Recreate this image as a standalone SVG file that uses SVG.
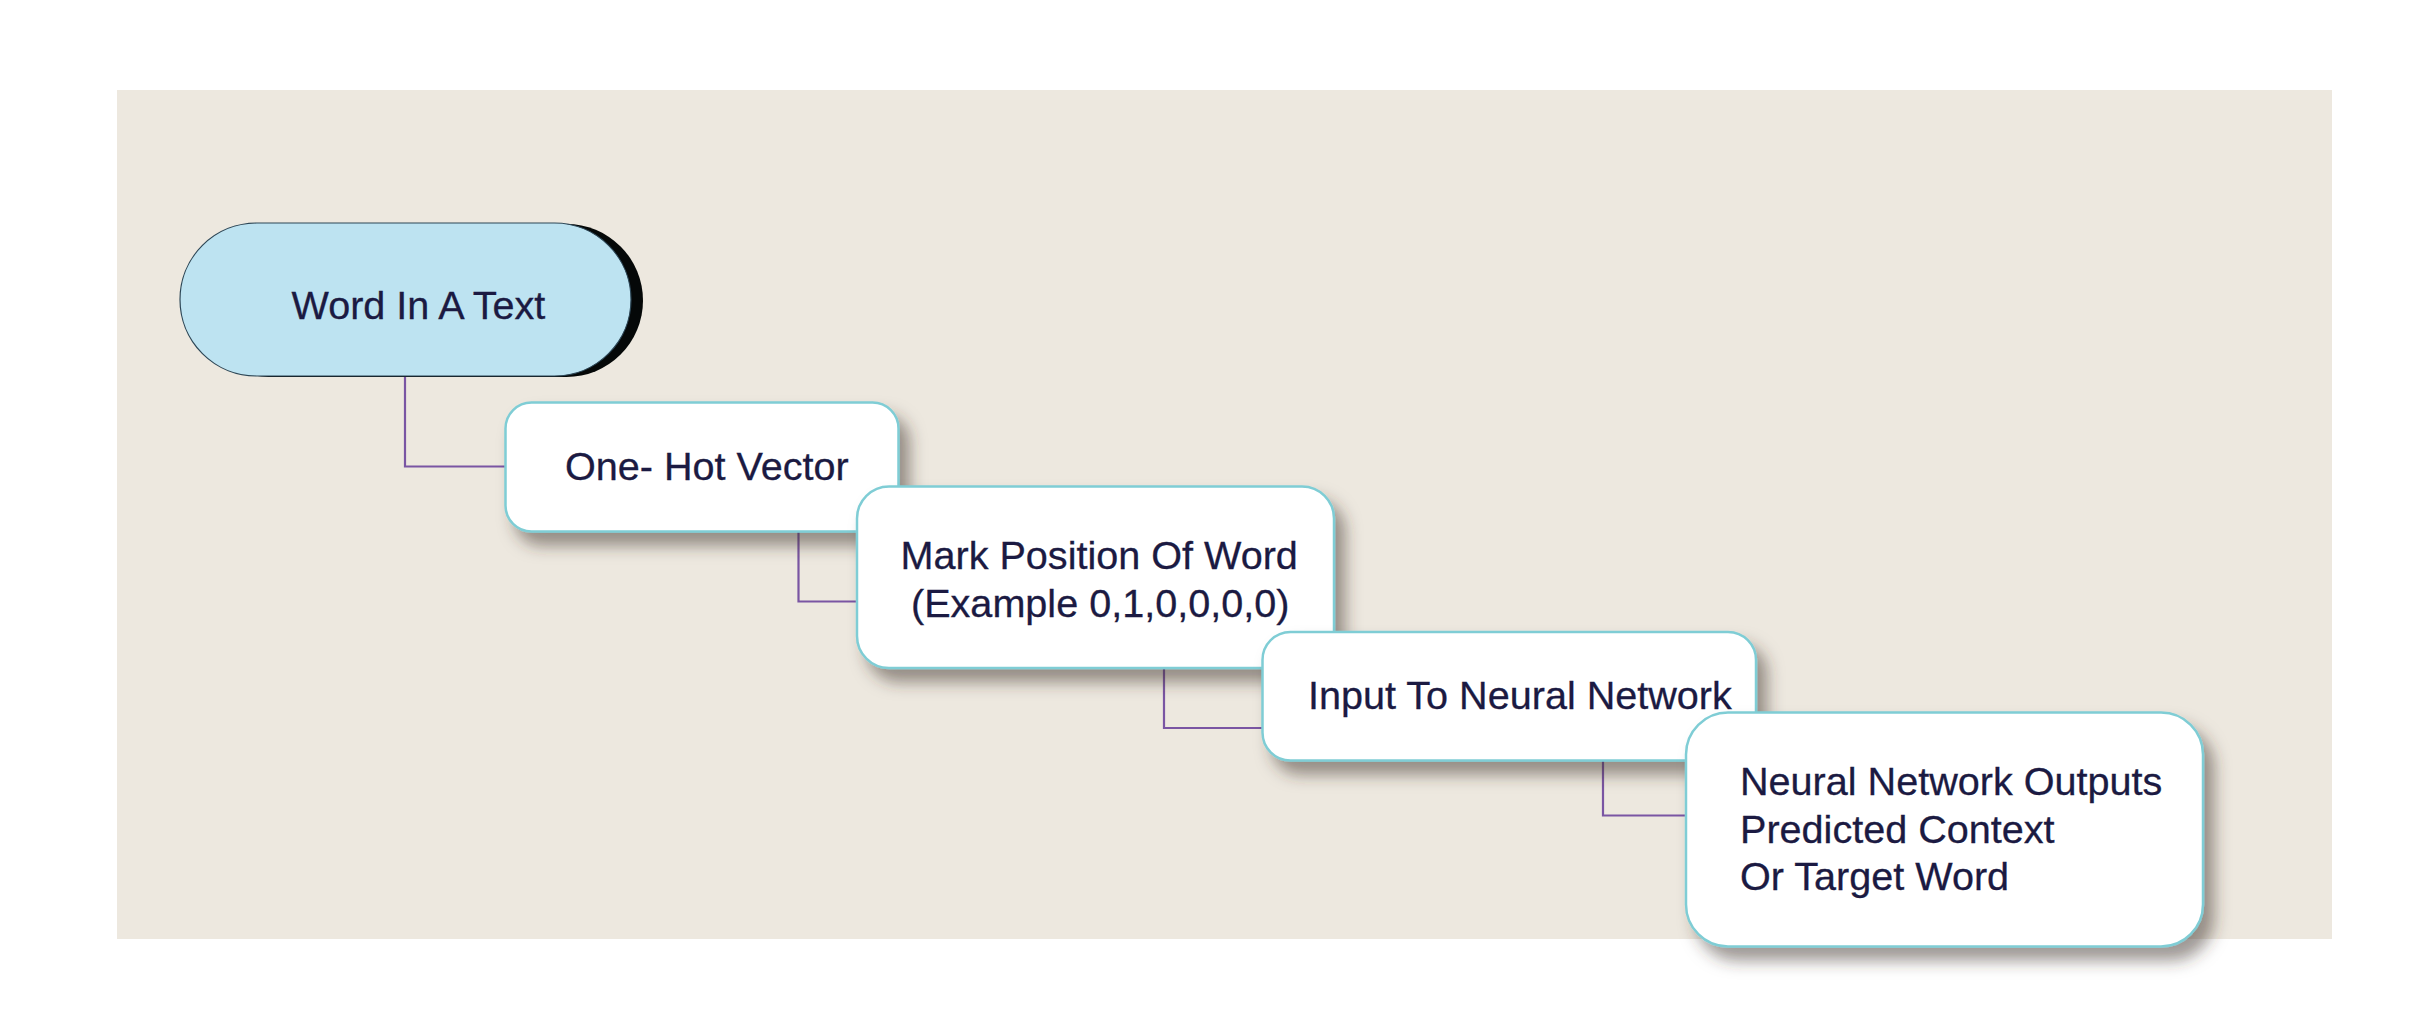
<svg xmlns="http://www.w3.org/2000/svg" width="2417" height="1014" viewBox="0 0 2417 1014">
  <style>
    .lbl { font-family: "Liberation Sans", Arial, sans-serif; font-size: 39.6px; fill: #1b1a42; stroke: #1b1a42; stroke-width: 0.3; }
    .box { fill: #ffffff; stroke: #7fcdd5; stroke-width: 2.5; }
    .conn { fill: none; stroke: #7a55a3; stroke-width: 2.2; }
  </style>
  <defs>
    <filter id="sh" x="-20%" y="-20%" width="150%" height="160%">
      <feDropShadow dx="10" dy="13" stdDeviation="8" flood-color="#3a3028" flood-opacity="0.5"/>
    </filter>
  </defs>
  <rect x="0" y="0" width="2417" height="1014" fill="#ffffff"/>
  <rect x="117" y="90" width="2215" height="849" fill="#ede8df"/>

  <g id="connectors">
    <path class="conn" d="M405,376 V466.5 H505"/>
    <path class="conn" d="M798.5,531 V601.5 H857"/>
    <path class="conn" d="M1164,668 V728 H1262.5"/>
    <path class="conn" d="M1603,760 V815.5 H1686"/>
  </g>

  <g id="node1">
    <rect x="192" y="224" width="451" height="153" rx="76.5" fill="#050808"/>
    <rect x="180" y="223" width="451" height="153" rx="76.5" fill="#bde3f1" stroke="#2c4656" stroke-width="1.2"/>
    <text class="lbl" x="291.5" y="318.5">Word In A Text</text>
  </g>

  <g id="node2">
    <rect class="box" x="505.5" y="402.5" width="393" height="129" rx="26" filter="url(#sh)"/>
    <text class="lbl" x="565" y="479.5">One- Hot Vector</text>
  </g>

  <g id="node3">
    <rect class="box" x="857" y="486.5" width="477" height="181.5" rx="32" filter="url(#sh)"/>
    <text class="lbl" x="900.5" y="569">Mark Position Of Word</text>
    <text class="lbl" x="911" y="616.5">(Example 0,1,0,0,0,0)</text>
  </g>

  <g id="node4">
    <rect class="box" x="1262.5" y="632" width="493.5" height="128.5" rx="28" filter="url(#sh)"/>
    <text class="lbl" x="1308" y="708.5">Input To Neural Network</text>
  </g>

  <g id="node5">
    <rect class="box" x="1686" y="712.5" width="517" height="234" rx="42" filter="url(#sh)"/>
    <text class="lbl" x="1740" y="795">Neural Network Outputs</text>
    <text class="lbl" x="1740" y="842.5">Predicted Context</text>
    <text class="lbl" x="1740" y="890">Or Target Word</text>
  </g>
</svg>
